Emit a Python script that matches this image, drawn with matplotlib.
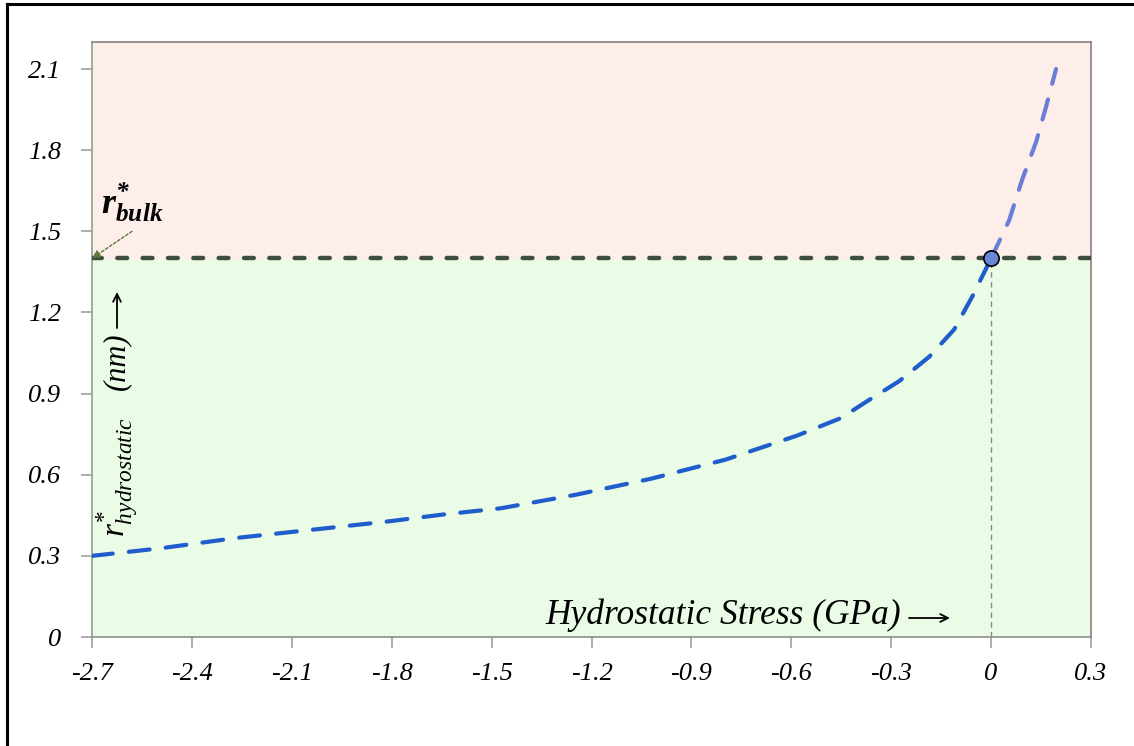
import matplotlib
matplotlib.use("Agg")
import matplotlib.pyplot as plt
from matplotlib.lines import Line2D
from matplotlib.patches import FancyArrowPatch

# Data
stress_low = [-2.7, -2.494, -2.268, -2.043, -1.813, -1.645, -1.472, -1.247, -1.022, -0.797,
              -0.582, -0.45, -0.376, -0.276, -0.186, -0.111, -0.056, 0.0]
r_low = [0.30, 0.328, 0.366, 0.396, 0.427, 0.453, 0.476, 0.526, 0.585, 0.656,
         0.745, 0.81, 0.869, 0.946, 1.036, 1.137, 1.26, 1.40]
stress_high = [0.0, 0.054, 0.093, 0.135, 0.165, 0.195]
r_high = [1.40, 1.54, 1.69, 1.83, 1.96, 2.10]
r_bulk = 1.4
x_ticks = [-2.7, -2.4, -2.1, -1.8, -1.5, -1.2, -0.9, -0.6, -0.3, 0, 0.3]
x_tick_labels = ["-2.7", "-2.4", "-2.1", "-1.8", "-1.5", "-1.2", "-0.9", "-0.6", "-0.3", "0", "0.3"]
y_ticks = [0, 0.3, 0.6, 0.9, 1.2, 1.5, 1.8, 2.1]
y_tick_labels = ["0", "0.3", "0.6", "0.9", "1.2", "1.5", "1.8", "2.1"]

serif = ["Liberation Serif", "DejaVu Serif"]
plt.rcParams["font.family"] = serif
plt.rcParams["mathtext.fontset"] = "custom"
plt.rcParams["mathtext.it"] = "Liberation Serif:italic"
plt.rcParams["mathtext.rm"] = "Liberation Serif"
plt.rcParams["mathtext.bf"] = "Liberation Serif:bold:italic"

W, H = 1134, 746
fig = plt.figure(figsize=(W / 100, H / 100), dpi=100)


def px(x, y):
    return (x / W, 1 - y / H)


ax = fig.add_axes([92 / W, 1 - 637 / H, (1091 - 92) / W, (637 - 42) / H])
xmin, xmax, ymin, ymax = -2.7, 0.3, 0.0, 2.2
ax.set_xlim(xmin, xmax)
ax.set_ylim(ymin, ymax)

# background regions
ax.axhspan(ymin, r_bulk, color="#EAFCE6", zorder=0)
ax.axhspan(r_bulk, ymax, color="#FDEEEA", zorder=0)

# vertical dotted line at 0
ax.plot([0, 0], [ymin, r_bulk], color="#8A8A8A", lw=1.0, ls=(0, (4, 3)), zorder=2)
# horizontal r_bulk line
ax.axhline(r_bulk, color="#3E4E3E", lw=3.2, ls=(0, (2.2, 3.5)), zorder=3,
           dash_capstyle="round")

# curves
ax.plot(stress_low, r_low, color="#1F5CCC", lw=3.0, ls=(0, (5, 3.9)), zorder=4,
        dash_capstyle="round")
ax.plot(stress_high, r_high, color="#6A7ED8", lw=3.0, ls=(0, (5, 3.9)), zorder=4,
        dash_capstyle="round")
ax.plot([0], [r_bulk], marker="o", ms=11, mfc="#6A86D8", mec="black", mew=1.2, zorder=5)

# ticks
ax.set_xticks(x_ticks)
ax.set_xticklabels(x_tick_labels)
ax.set_yticks(y_ticks)
ax.set_yticklabels(y_tick_labels)
for sp in ["top", "right"]:
    ax.spines[sp].set_color("#8A7F7F")
    ax.spines[sp].set_linewidth(1.2)
ax.spines["left"].set_color("#8FA08F")
ax.spines["bottom"].set_color("#8F8F8F")
for sp in ["left", "bottom"]:
    ax.spines[sp].set_linewidth(1.2)
ax.tick_params(axis="both", direction="out", length=8, width=1.2, color="#A0A0A0",
               labelsize=19)
ax.tick_params(axis="x", pad=11)
ax.tick_params(axis="y", pad=14)
for lab in ax.get_xticklabels() + ax.get_yticklabels():
    lab.set_fontstyle("italic")

# x axis label inside the plot
fig.text(*px(545, 624), "Hydrostatic Stress (GPa)", fontsize=25.5, style="italic",
         ha="left", va="baseline", zorder=6)
fig.add_artist(FancyArrowPatch(px(909, 618), px(950, 618), transform=fig.transFigure,
                               arrowstyle="->", mutation_scale=14, color="black",
                               lw=1.3, shrinkA=0, shrinkB=0))

# y axis label inside the plot (rotated)
kw = dict(rotation=90, rotation_mode="anchor", ha="left", va="baseline", style="italic")
fig.text(*px(125, 537), r"$r^{*}_{hydrostatic}$", fontsize=24, **kw)
fig.text(*px(124, 390), "(nm)", fontsize=22, **kw)
fig.add_artist(FancyArrowPatch(px(117, 328), px(117, 292), transform=fig.transFigure,
                               arrowstyle="->", mutation_scale=14, color="black",
                               lw=1.3, shrinkA=0, shrinkB=0))

# r_bulk annotation
ax.annotate("", xy=(-2.7, r_bulk), xytext=(-2.58, 1.5),
            arrowprops=dict(arrowstyle="-|>", color="#5A7A3A", lw=1.0, ls=(0, (2, 1.5)),
                            mutation_scale=12, shrinkA=0, shrinkB=0), zorder=6)
fig.text(*px(101, 214), r"$\mathbf{r^{*}_{bulk}}$", fontsize=26,
         ha="left", va="baseline", zorder=6)

# outer frame (top and left only)
fig.add_artist(Line2D([7 / W, 7 / W], [0, 1 - 4 / H], transform=fig.transFigure,
                      color="black", lw=2.2))
fig.add_artist(Line2D([7 / W, 1], [1 - 4 / H, 1 - 4 / H], transform=fig.transFigure,
                      color="black", lw=2.2))

fig.savefig("out.png", dpi=100)
